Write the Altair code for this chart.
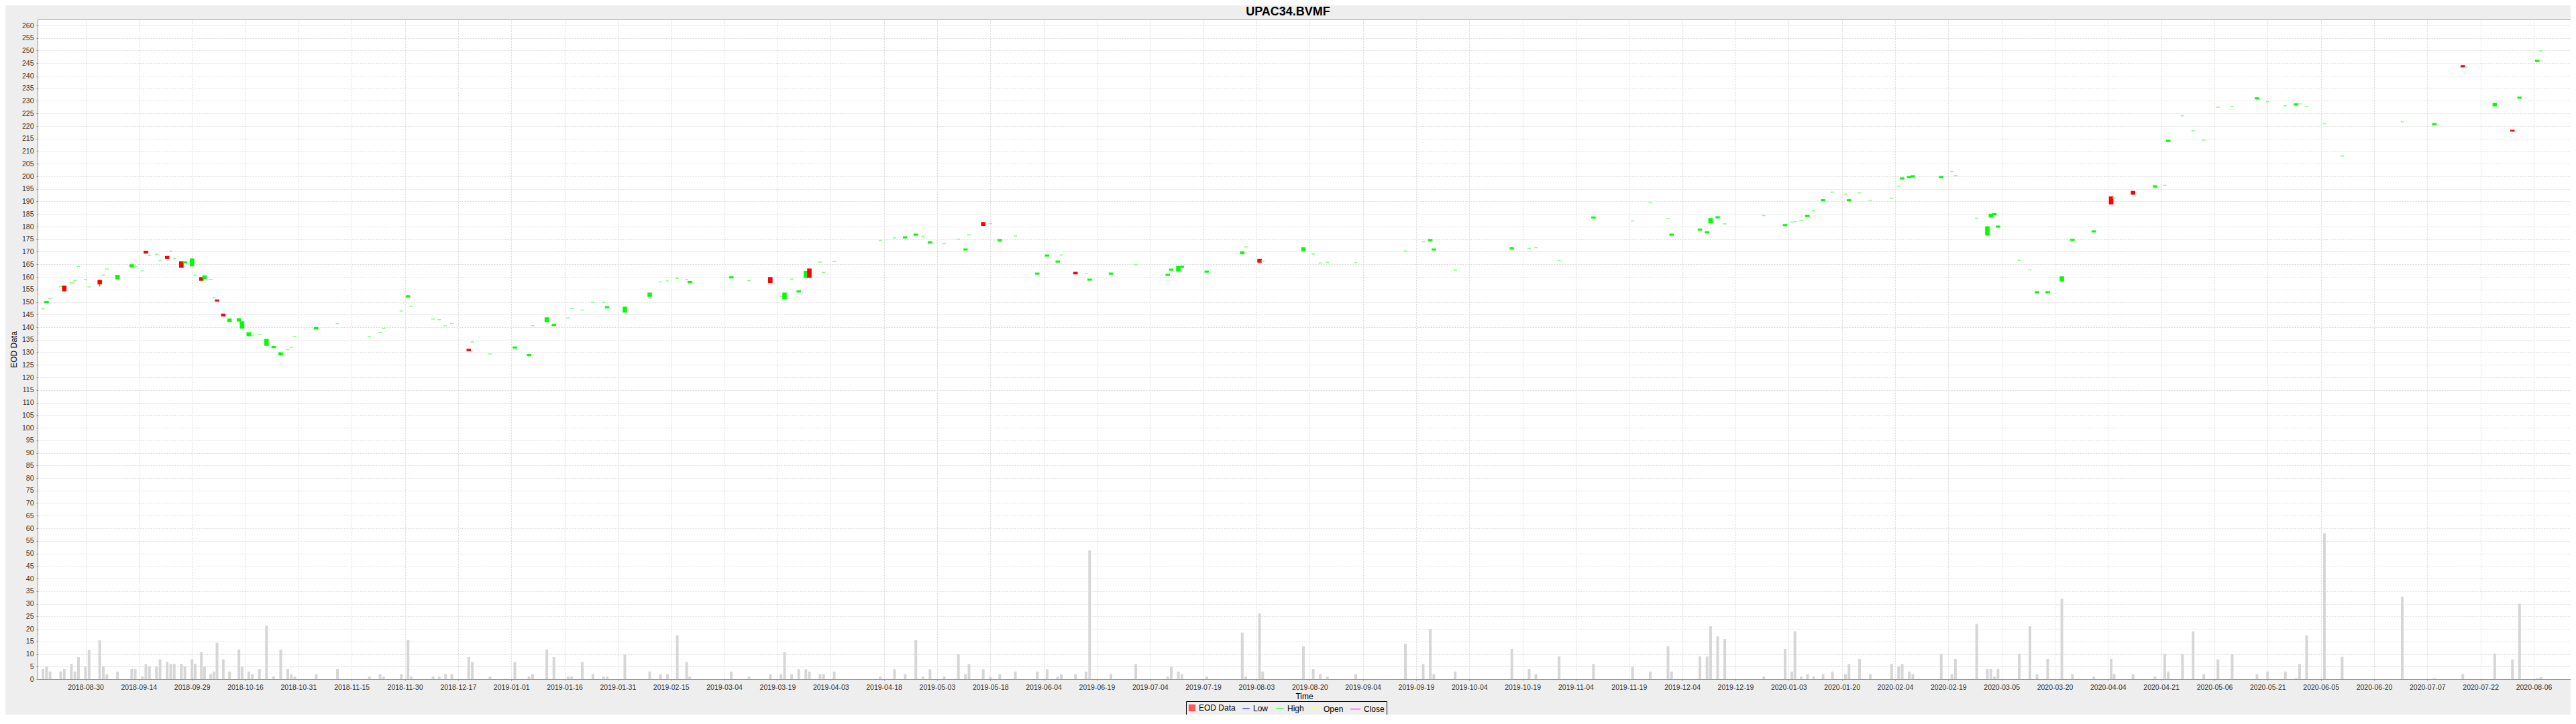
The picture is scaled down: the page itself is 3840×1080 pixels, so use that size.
import altair as alt
import numpy as np
import pandas as pd

title_text = "UPAC34.BVMF"
y_title = "EOD Data"
x_title = "Time"

tick_labels = [
    "2018-08-30", "2018-09-14", "2018-09-29", "2018-10-16", "2018-10-31", "2018-11-15",
    "2018-11-30", "2018-12-17", "2019-01-01", "2019-01-16", "2019-01-31", "2019-02-15",
    "2019-03-04", "2019-03-19", "2019-04-03", "2019-04-18", "2019-05-03", "2019-05-18",
    "2019-06-04", "2019-06-19", "2019-07-04", "2019-07-19", "2019-08-03", "2019-08-20",
    "2019-09-04", "2019-09-19", "2019-10-04", "2019-10-19", "2019-11-04", "2019-11-19",
    "2019-12-04", "2019-12-19", "2020-01-03", "2020-01-20", "2020-02-04", "2020-02-19",
    "2020-03-05", "2020-03-20", "2020-04-04", "2020-04-21", "2020-05-06", "2020-05-21",
    "2020-06-05", "2020-06-20", "2020-07-07", "2020-07-22", "2020-08-06",
]

dates = [
    "2018-08-18", "2018-08-19", "2018-08-20", "2018-08-23", "2018-08-24", "2018-08-26", "2018-08-27", "2018-08-28", "2018-08-30", "2018-08-31",
    "2018-09-03", "2018-09-04", "2018-09-05", "2018-09-08", "2018-09-12", "2018-09-13", "2018-09-15", "2018-09-16", "2018-09-17", "2018-09-19",
    "2018-09-20", "2018-09-22", "2018-09-23", "2018-09-24", "2018-09-26", "2018-09-27", "2018-09-29", "2018-09-30", "2018-10-02", "2018-10-03",
    "2018-10-05", "2018-10-06", "2018-10-07", "2018-10-09", "2018-10-11", "2018-10-14", "2018-10-15", "2018-10-17", "2018-10-18", "2018-10-20",
    "2018-10-22", "2018-10-24", "2018-10-26", "2018-10-28", "2018-10-29", "2018-10-30", "2018-11-05", "2018-11-11", "2018-11-20", "2018-11-23",
    "2018-11-24", "2018-11-29", "2018-12-01", "2018-12-02", "2018-12-09", "2018-12-11", "2018-12-13", "2018-12-15", "2018-12-20", "2018-12-21",
    "2018-12-26", "2019-01-02", "2019-01-06", "2019-01-07", "2019-01-11", "2019-01-13", "2019-01-17", "2019-01-18", "2019-01-21", "2019-01-24",
    "2019-01-27", "2019-01-28", "2019-02-02", "2019-02-09", "2019-02-12", "2019-02-14", "2019-02-17", "2019-02-20", "2019-02-21", "2019-03-06",
    "2019-03-11", "2019-03-17", "2019-03-20", "2019-03-21", "2019-03-23", "2019-03-25", "2019-03-27", "2019-03-28", "2019-03-31", "2019-04-01",
    "2019-04-04",
    "2019-04-17", "2019-04-21", "2019-04-24", "2019-04-27", "2019-04-29", "2019-05-01", "2019-05-05", "2019-05-09", "2019-05-11", "2019-05-12",
    "2019-05-16", "2019-05-18", "2019-05-21", "2019-05-26", "2019-06-02", "2019-06-05", "2019-06-08", "2019-06-09", "2019-06-13", "2019-06-16",
    "2019-06-17", "2019-06-23", "2019-06-30", "2019-07-09", "2019-07-10", "2019-07-12", "2019-07-13", "2019-07-20", "2019-07-30", "2019-07-31",
    "2019-08-04", "2019-08-05", "2019-08-18", "2019-08-21", "2019-08-23", "2019-08-25", "2019-09-02", "2019-09-16", "2019-09-21", "2019-09-23",
    "2019-09-24", "2019-09-30", "2019-10-16", "2019-10-21", "2019-10-23", "2019-10-30", "2019-11-09", "2019-11-20", "2019-11-25", "2019-11-30",
    "2019-12-01", "2019-12-09", "2019-12-11", "2019-12-12",
    "2019-12-14", "2019-12-16", "2019-12-27", "2020-01-02", "2020-01-04", "2020-01-05", "2020-01-07", "2020-01-09", "2020-01-11", "2020-01-14",
    "2020-01-17", "2020-01-21", "2020-01-22", "2020-01-25", "2020-01-28", "2020-02-03", "2020-02-05", "2020-02-06", "2020-02-08", "2020-02-09",
    "2020-02-17", "2020-02-20", "2020-02-21", "2020-02-27", "2020-03-01", "2020-03-02", "2020-03-03", "2020-03-04", "2020-03-10", "2020-03-13",
    "2020-03-15", "2020-03-18", "2020-03-22", "2020-03-25", "2020-03-31", "2020-04-05", "2020-04-06", "2020-04-12", "2020-04-19", "2020-04-22",
    "2020-04-23", "2020-04-27", "2020-04-30", "2020-05-03", "2020-05-07", "2020-05-11", "2020-05-18", "2020-05-21", "2020-05-26", "2020-05-29",
    "2020-05-30", "2020-06-01", "2020-06-06", "2020-06-11", "2020-06-29", "2020-07-09", "2020-07-17", "2020-07-26", "2020-07-31", "2020-08-02",
    "2020-08-07", "2020-08-08",
]

opens = [
    147.3, 149.8, 151.4, 156.2, 156.3, 157.8, 158.5, 164.2, 158.9, 156.0,
    158.5, 160.7, 163.1, 159.2, 164.0, 164.1, 162.4, 170.2, 168.5, 169.0,
    166.4, 168.1, 170.1, 167.2, 166.0, 165.7, 164.4, 160.7, 159.7, 159.4,
    158.9, 151.7, 150.8, 145.2, 142.3, 142.5, 139.6, 136.6, 136.7, 137.0,
    132.8, 131.9, 129.0, 131.1, 132.0, 136.3, 139.4, 141.4, 136.3, 137.9,
    139.5, 146.4, 152.1, 148.3, 143.2, 143.0, 140.5, 141.4, 131.2, 134.1,
    129.3, 131.7, 128.7, 140.6, 142.2, 140.7, 143.7, 147.4, 146.8, 149.9,
    149.9, 147.7, 146.0, 152.3, 158.0, 158.4, 159.4, 159.0, 157.8, 159.6,
    158.5, 159.7, 152.3, 151.3, 159.1, 154.0, 159.8, 163.1, 165.9, 161.7,
    166.1,
    174.5, 175.5, 175.5, 176.6, 176.1, 173.5, 173.2, 175.0, 170.7, 176.7,
    181.6, 181.2, 174.4, 176.3, 161.1, 168.3, 165.9, 168.7, 161.8, 161.4,
    158.7, 161.1, 164.8, 160.6, 162.7, 162.3, 163.8, 161.9, 169.2, 172.0,
    167.0, 166.3, 170.4, 169.1, 165.5, 165.7, 165.6, 170.3, 174.0, 174.4,
    170.7, 162.7, 171.2, 171.3, 171.6, 166.5, 183.4, 182.2, 189.5, 183.2,
    176.6, 178.6, 177.5, 181.5,
    183.5, 181.1, 184.4, 180.4, 181.8, 182.0, 182.5, 184.0, 186.3, 190.3,
    193.7, 192.9, 190.3, 193.4, 190.4, 191.3, 196.0, 199.0, 199.5, 199.8,
    199.5, 201.9, 200.3, 183.3, 176.7, 183.9, 184.7, 179.8, 166.6, 162.8,
    153.7, 153.7, 158.4, 174.5, 177.9, 191.8, 191.4, 194.0, 195.8, 196.4,
    213.9, 224.1, 218.1, 214.4, 227.5, 227.8, 230.8, 229.7, 228.1, 228.4,
    228.8, 227.8, 220.9, 208.1, 221.7, 220.6, 244.0, 228.1, 218.3, 231.1,
    245.8, 249.9,
]

closes = [
    147.3, 150.2, 151.4, 156.2, 154.5, 157.8, 158.5, 164.2, 158.9, 156.0,
    157.2, 160.7, 163.1, 160.6, 164.8, 164.1, 162.4, 169.5, 168.5, 169.0,
    166.4, 167.4, 170.1, 167.2, 163.8, 166.0, 167.1, 160.7, 158.7, 160.4,
    158.9, 151.7, 150.4, 144.5, 143.2, 143.3, 142.1, 137.8, 136.7, 137.0,
    135.1, 132.3, 129.8, 131.1, 132.0, 136.3, 139.8, 141.4, 136.3, 137.9,
    139.5, 146.4, 152.5, 148.3, 143.2, 143.0, 140.5, 141.4, 130.7, 134.1,
    129.3, 132.1, 129.1, 140.6, 143.7, 141.1, 143.7, 147.4, 146.8, 149.9,
    149.9, 148.1, 147.9, 153.5, 158.0, 158.4, 159.4, 159.0, 158.2, 160.0,
    158.5, 157.8, 152.3, 153.5, 159.1, 154.4, 162.2, 159.8, 165.9, 161.7,
    166.1,
    174.5, 175.5, 175.9, 177.0, 176.1, 173.9, 173.2, 175.0, 171.1, 176.7,
    180.5, 181.2, 174.8, 176.3, 161.5, 168.7, 166.3, 168.7, 161.2, 161.4,
    159.1, 161.5, 164.8, 161.0, 163.1, 164.1, 164.2, 162.3, 169.9, 172.0,
    165.9, 166.3, 171.6, 169.1, 165.5, 165.7, 165.6, 170.3, 174.0, 174.8,
    171.1, 162.7, 171.6, 171.3, 171.6, 166.5, 183.8, 182.2, 189.5, 183.2,
    177.0, 179.0, 177.9, 183.2,
    183.9, 181.1, 184.4, 180.8, 181.8, 182.0, 182.5, 184.4, 186.3, 190.7,
    193.7, 192.9, 190.7, 193.4, 190.4, 191.3, 196.0, 199.4, 199.9, 200.2,
    199.9, 201.9, 200.3, 183.3, 179.9, 184.9, 185.1, 180.2, 166.6, 162.8,
    154.1, 154.1, 160.0, 174.9, 178.3, 189.0, 191.4, 192.9, 196.2, 196.4,
    214.3, 224.1, 218.1, 214.4, 227.5, 227.8, 231.2, 229.7, 228.1, 228.8,
    228.8, 227.8, 220.9, 208.1, 221.7, 221.0, 243.6, 229.0, 218.0, 231.5,
    246.2, 249.9,
]

highs = [
    147.3, 150.2, 151.4, 156.2, 156.3, 157.8, 158.5, 164.2, 158.9, 156.0,
    158.5, 160.7, 163.1, 160.6, 164.8, 164.1, 162.4, 170.2, 168.5, 169.0,
    166.4, 168.1, 170.1, 167.2, 166.0, 166.0, 167.1, 160.7, 159.7, 160.4,
    158.9, 151.7, 150.8, 145.2, 143.2, 143.3, 142.1, 137.8, 136.7, 137.0,
    135.1, 132.3, 129.8, 131.1, 132.0, 136.3, 139.8, 141.4, 136.3, 137.9,
    139.5, 146.4, 152.5, 148.3, 143.2, 143.0, 140.5, 141.4, 131.2, 134.1,
    129.3, 132.1, 129.1, 140.6, 143.7, 141.1, 143.7, 147.4, 146.8, 149.9,
    149.9, 148.1, 147.9, 153.5, 158.0, 158.4, 159.4, 159.0, 158.2, 160.0,
    158.5, 159.7, 152.3, 153.5, 159.1, 154.4, 162.2, 163.1, 165.9, 161.7,
    166.1,
    174.5, 175.5, 175.9, 177.0, 176.1, 173.9, 173.2, 175.0, 171.1, 176.7,
    181.6, 181.2, 174.8, 176.3, 161.5, 168.7, 166.3, 168.7, 161.8, 161.4,
    159.1, 161.5, 164.8, 161.0, 163.1, 164.1, 164.2, 162.3, 169.9, 172.0,
    167.0, 166.3, 171.6, 169.1, 165.5, 165.7, 165.6, 170.3, 174.0, 174.8,
    171.1, 162.7, 171.6, 171.3, 171.6, 166.5, 183.8, 182.2, 189.5, 183.2,
    177.0, 179.0, 177.9, 183.2,
    183.9, 181.1, 184.4, 180.8, 181.8, 182.0, 182.5, 184.4, 186.3, 190.7,
    193.7, 192.9, 190.7, 193.4, 190.4, 191.3, 196.0, 199.4, 199.9, 200.2,
    199.9, 201.9, 200.3, 183.3, 179.9, 184.9, 185.1, 180.2, 166.6, 162.8,
    154.1, 154.1, 160.0, 174.9, 178.3, 191.8, 191.4, 194.0, 196.2, 196.4,
    214.3, 224.1, 218.1, 214.4, 227.5, 227.8, 231.2, 229.7, 228.1, 228.8,
    228.8, 227.8, 220.9, 208.1, 221.7, 221.0, 244.0, 229.0, 218.3, 231.5,
    246.2, 249.9,
]

lows = [
    147.3, 149.8, 151.4, 156.2, 154.5, 157.8, 158.5, 164.2, 158.9, 156.0,
    156.2, 160.7, 163.1, 159.2, 164.0, 164.1, 162.4, 169.5, 168.5, 169.0,
    166.4, 167.4, 170.1, 167.2, 163.8, 165.7, 164.4, 160.7, 158.7, 159.4,
    158.9, 151.7, 150.4, 144.5, 142.3, 142.5, 139.6, 136.6, 136.7, 137.0,
    132.8, 131.9, 129.0, 131.1, 132.0, 136.3, 139.4, 141.4, 136.3, 137.9,
    139.5, 146.4, 152.1, 148.3, 143.2, 143.0, 140.5, 141.4, 130.7, 134.1,
    129.3, 131.7, 128.7, 140.6, 142.2, 140.7, 143.7, 147.4, 146.8, 149.9,
    149.9, 147.7, 146.0, 152.3, 158.0, 158.4, 159.4, 159.0, 157.8, 159.6,
    158.5, 157.8, 152.3, 151.3, 159.1, 154.0, 159.8, 159.8, 165.9, 161.7,
    166.1,
    174.5, 175.5, 175.5, 176.6, 176.1, 173.5, 173.2, 175.0, 170.7, 176.7,
    180.5, 181.2, 174.4, 176.3, 161.1, 168.3, 165.9, 168.7, 161.2, 161.4,
    158.7, 161.1, 164.8, 160.6, 162.7, 162.3, 163.8, 161.9, 169.2, 172.0,
    165.9, 166.3, 170.4, 169.1, 165.5, 165.7, 165.6, 170.3, 174.0, 174.4,
    170.7, 162.7, 171.2, 171.3, 171.6, 166.5, 183.4, 182.2, 189.5, 183.2,
    176.6, 178.6, 177.5, 181.5,
    183.5, 181.1, 184.4, 180.4, 181.8, 182.0, 182.5, 184.0, 186.3, 190.3,
    193.7, 192.9, 190.3, 193.4, 190.4, 191.3, 196.0, 199.0, 199.5, 199.8,
    199.5, 201.9, 200.3, 183.3, 176.7, 183.9, 184.7, 179.8, 166.6, 162.8,
    153.7, 153.7, 158.4, 174.5, 177.9, 189.0, 191.4, 192.9, 195.8, 196.4,
    213.9, 224.1, 218.1, 214.4, 227.5, 227.8, 230.8, 229.7, 228.1, 228.4,
    228.8, 227.8, 220.9, 208.1, 221.7, 220.6, 243.6, 228.1, 218.0, 231.1,
    245.8, 249.9,
]

volumes = [
    4, 5, 3, 3, 4, 6, 3, 8.8, 5, 11.6,
    15.4, 5, 2, 3, 4, 4, 1, 6, 5, 5,
    7.8, 6.8, 6, 6, 6, 5, 7.8, 6, 10.7, 5,
    2, 3, 14.5, 7.8, 3, 11.7, 5, 3, 2, 4,
    21.3, 1, 11.7, 4, 2, 1, 2, 4, 1, 2,
    1, 2, 15.5, 1, 1, 1, 2, 2, 8.8, 6.8,
    1, 6.8, 1, 2, 11.7, 8.8, 1, 1, 6.8, 2,
    1, 1, 9.8, 3, 2, 2, 17.4, 6.8, 1, 3,
    1, 2, 2, 10.7, 2, 3.9, 3.9, 3, 2, 2,
    3,
    1, 3.9, 2, 15.5, 1, 3.9, 1, 9.8, 2, 6,
    3.9, 1, 2, 3, 3, 3.9, 1, 2, 2, 3,
    51.2, 2, 6, 1, 4.9, 3, 2, 1, 18.5, 1,
    26.1, 3, 13, 4, 2, 1, 2, 14, 6, 20,
    2, 3, 12, 4, 2, 9, 6, 5, 3, 13,
    3, 9, 9, 21,
    17, 16, 1, 12, 3, 19, 1, 2, 1, 2,
    3, 2, 6, 8, 2, 6, 5, 6, 3, 2,
    10, 2, 8, 22, 4, 4, 1, 4, 10, 21,
    2, 8, 32, 2, 1, 8, 2, 2, 1, 10,
    3, 10, 19, 2, 7.8, 9.8, 2, 3, 3, 0.3,
    6, 17.4, 58, 8.9, 32.8, 0.3, 2, 10.1, 7.8, 30,
    0.3, 0.8,
]

legend_items = ["EOD Data", "Low", "High", "Open", "Close"]

# ---- build table (tick labels are evenly spaced on this axis) ----
tick_ord = np.array([pd.Timestamp(t).toordinal() for t in tick_labels], dtype=float)
tick_idx = np.arange(len(tick_labels), dtype=float)


def to_pos(d):
    o = pd.Timestamp(d).toordinal()
    if o < tick_ord[0]:
        return (o - tick_ord[0]) / (tick_ord[1] - tick_ord[0])
    if o > tick_ord[-1]:
        return tick_idx[-1] + (o - tick_ord[-1]) / (tick_ord[-1] - tick_ord[-2])
    return float(np.interp(o, tick_ord, tick_idx))


df = pd.DataFrame({
    "date": dates, "open": opens, "high": highs, "low": lows,
    "close": closes, "volume": volumes,
})
df["pos"] = [to_pos(d) for d in df["date"]]
df["col"] = np.where(df["close"] > df["open"], "#00FF00",
                     np.where(df["close"] < df["open"], "#FF0000", "#86FF86"))

label_expr = "[" + ",".join("'%s'" % t for t in tick_labels) + "][datum.value]"

FONT = "Liberation Sans"
PLOT_W, PLOT_H = 3776, 984
x_scale = alt.Scale(domain=[-0.8385, 46.63], nice=False, zero=False)
y_scale = alt.Scale(domain=[0, 262.4], nice=False, zero=False)

x_axis = alt.Axis(
    values=list(range(len(tick_labels))), labelExpr=label_expr, title=x_title,
    labelOverlap=False, labelFlush=False, grid=True, tickSize=2, labelPadding=5,
    titleY=20, titleBaseline="top", titleFontSize=12, titleFontWeight="normal",
    titleFont=FONT, titleColor="black",
)
y_axis = alt.Axis(
    values=list(range(0, 261, 5)), title=y_title, labelOverlap=False, grid=True,
    tickSize=2, labelPadding=4, titleX=-31.5, titleY=PLOT_H / 2, titleBaseline="alphabetic",
    titleFontSize=12, titleFontWeight="normal", titleFont=FONT, titleColor="black",
)

X = alt.X("pos:Q", scale=x_scale, axis=x_axis)


def Y(field):
    return alt.Y(field, scale=y_scale, axis=y_axis)


volume_layer = alt.Chart(df).mark_bar(size=4, color="#D6D6D6").encode(
    x=X, y=Y("volume:Q")
)

wick_layer = alt.Chart(df).mark_rule(strokeWidth=1).encode(
    x=X, y=Y("low:Q"), y2="high:Q", color=alt.Color("col:N", scale=None)
)

body_layer = alt.Chart(df).mark_bar(size=5, strokeWidth=1.6).encode(
    x=X, y=Y("open:Q"), y2="close:Q",
    fill=alt.Fill("col:N", scale=None), stroke=alt.Stroke("col:N", scale=None),
)

legend_df = pd.DataFrame({"item": legend_items, "pos": [-20.0] * 5, "v": [0.0] * 5})
lg = alt.Legend(
    orient="none", legendX=1712, legendY=1017, direction="horizontal", title=None,
    labelFont=FONT, labelFontSize=12, labelColor="black", strokeColor="black",
    padding=3, columnPadding=7, labelOffset=4, symbolStrokeWidth=1.5,
)
legend_layer = alt.Chart(legend_df).mark_point(opacity=1, clip=True, strokeWidth=1.5).encode(
    x=X, y=Y("v:Q"),
    fill=alt.Fill("item:N", scale=alt.Scale(domain=legend_items,
                  range=["#FF5555", "transparent", "transparent", "transparent", "transparent"]), legend=lg),
    stroke=alt.Stroke("item:N", scale=alt.Scale(domain=legend_items,
                      range=["#FF5555", "#5555FF", "#55FF55", "#FFFF55", "#FF55FF"]), legend=lg),
    shape=alt.Shape("item:N", scale=alt.Scale(domain=legend_items,
                    range=["square", "stroke", "stroke", "stroke", "stroke"]), legend=lg),
    size=alt.Size("item:N", scale=alt.Scale(domain=legend_items,
                  range=[75, 220, 220, 220, 220]), legend=lg),
)

# chart title, drawn as a text mark centred over the whole canvas
title_layer = alt.Chart(pd.DataFrame({"t": [title_text]})).mark_text(
    font=FONT, fontSize=18, fontWeight="bold", color="black",
    align="center", baseline="alphabetic",
).encode(text="t:N", x=alt.value(1864), y=alt.value(-6.5))

chart = alt.layer(volume_layer, wick_layer, body_layer, legend_layer, title_layer).properties(
    width=PLOT_W, height=PLOT_H,
    autosize=alt.AutoSizeParams(type="none"),
    padding={"left": 48, "top": 21, "right": 0, "bottom": 53},
).configure(background="#EEEEEE").configure_view(
    fill="white", stroke="#ABABAB", strokeWidth=1
).configure_axis(
    gridColor="#D9D9D9", gridDash=[2, 2], gridWidth=1,
    domainColor="#8F8F8F", domainWidth=1, tickColor="#8F8F8F",
    labelFont=FONT, labelFontSize=10.5, labelColor="#333333",
)

chart.save("out.html", embed_options={"renderer": "svg", "actions": False})
